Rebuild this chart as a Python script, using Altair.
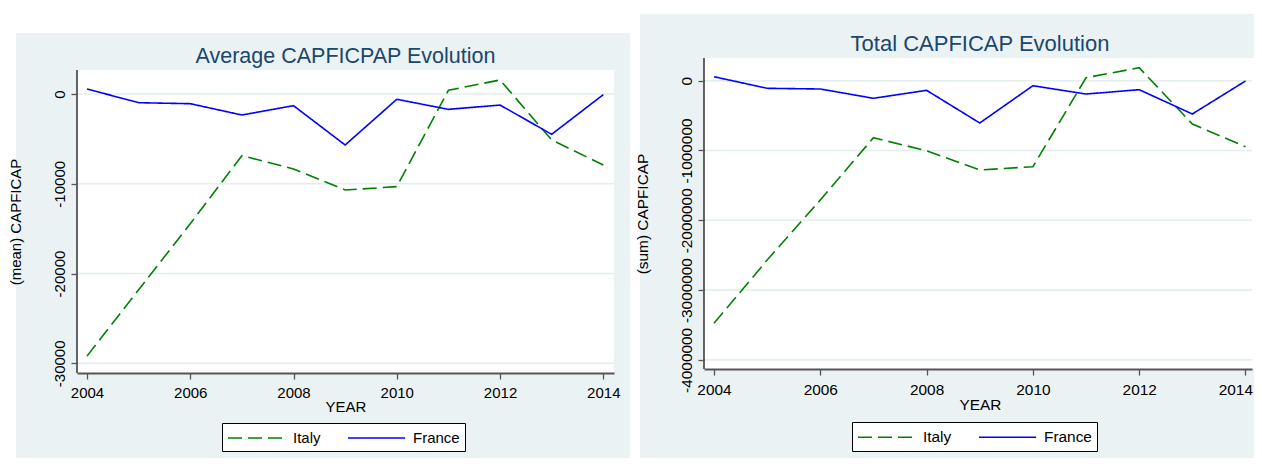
import altair as alt
import pandas as pd

# ---------------- data ----------------
years = [2004, 2005, 2006, 2007, 2008, 2009, 2010, 2011, 2012, 2013, 2014]
countries = ["Italy", "France"]

italy_mean = [-29200, -21800, -14450, -6870, -8350, -10690, -10320, 410, 1560, -5120, -7910]
france_mean = [560, -970, -1080, -2340, -1300, -5680, -590, -1710, -1230, -4490, -70]

italy_sum = [-3476000, -2570000, -1709000, -817000, -1003000, -1279000, -1232000, 43000, 186000, -620000, -946000]
france_sum = [57000, -109000, -119000, -252000, -138000, -606000, -72000, -191000, -129000, -477000, -4000]

mean_ticks = [0, -10000, -20000, -30000]
sum_ticks = [0, -1000000, -2000000, -3000000, -4000000]
year_ticks = [2004, 2006, 2008, 2010, 2012, 2014]

line_colors = ["#008000", "#0000ff"]
line_dashes = [[14, 6], [1, 0]]

FONT = "Liberation Sans"
BG = "#eaf2f3"
GRID = "#e4eef0"
TITLE_COLOR = "#1a476f"


def panel(it_vals, fr_vals, title, ytitle, yticks, ydom, xdom, W, H, white_top, white_right,
          title_x, title_y, title_size, fs, bg, legend_xy, xlabel_pad, xtitle_y, ytitle_y,
          flush, flush_offset):
    df = pd.DataFrame({
        "YEAR": years + years,
        "value": it_vals + fr_vals,
        "country": ["Italy"] * len(years) + ["France"] * len(years),
    })
    one = pd.DataFrame({"t": [title]})
    xs = alt.Scale(domain=xdom, nice=False, zero=False)
    ys = alt.Scale(domain=ydom, nice=False, zero=False)

    yaxis = alt.Axis(
        values=yticks, labelExpr="'' + datum.value", title=ytitle,
        labelFont=FONT, labelFontSize=fs, labelColor="black", labelAngle=270,
        labelAlign="center", labelBaseline="alphabetic", labelPadding=7,
        labelOverlap=False, labelFlush=False,
        tickSize=6, tickColor="#555555", tickWidth=1.3, domain=False, grid=False,
        titleFont=FONT, titleFontSize=fs, titleFontWeight="normal", titleColor="black",
        titleAngle=270, titleX=-57, titleY=ytitle_y, titleBaseline="alphabetic",
        titleAlign="center", zindex=1)

    bg_rect = alt.Chart(one).mark_rect(color=BG).encode(
        x=alt.value(bg[0]), x2=alt.value(bg[1]), y=alt.value(bg[2]), y2=alt.value(bg[3]))
    white = alt.Chart(one).mark_rect(color="white").encode(
        x=alt.value(0), x2=alt.value(white_right), y=alt.value(white_top), y2=alt.value(H))
    grid = alt.Chart(pd.DataFrame({"value": yticks})).mark_rule(
        color=GRID, strokeWidth=1.6).encode(y=alt.Y("value:Q", scale=ys, axis=yaxis))
    ydomain_line = alt.Chart(one).mark_rule(color="black", strokeWidth=1.2).encode(
        x=alt.value(0), y=alt.value(white_top), y2=alt.value(H))

    leg = alt.Legend(
        title=None, orient="none", legendX=legend_xy[0], legendY=legend_xy[1],
        direction="horizontal", symbolType="M-1,0L5.35,0", symbolSize=324,
        symbolStrokeWidth=1.6, labelOffset=46, columnPadding=23,
        labelFont=FONT, labelFontSize=fs, labelColor="black", padding=5,
        strokeColor="black", fillColor="white", cornerRadius=0, zindex=1)

    lines = alt.Chart(df).mark_line(strokeWidth=1.6).encode(
        x=alt.X("YEAR:Q", scale=xs, axis=alt.Axis(
            values=year_ticks, labelExpr="'' + datum.value", title="YEAR",
            labelFont=FONT, labelFontSize=fs, labelColor="black",
            labelFlush=flush, labelFlushOffset=flush_offset,
            labelOverlap=False, labelBaseline="alphabetic", labelPadding=xlabel_pad,
            tickSize=6, tickColor="#555555", tickWidth=1.3,
            domainColor="#555555", domainWidth=1.8, grid=False,
            titleFont=FONT, titleFontSize=fs, titleFontWeight="normal", titleColor="black",
            titleX=title_x, titleY=xtitle_y, titleBaseline="alphabetic", titleAlign="center",
            zindex=1)),
        y=alt.Y("value:Q", scale=ys, axis=yaxis),
        color=alt.Color("country:N", scale=alt.Scale(domain=countries, range=line_colors), legend=leg),
        strokeDash=alt.StrokeDash("country:N", scale=alt.Scale(domain=countries, range=line_dashes), legend=leg),
    )

    title_txt = alt.Chart(one).mark_text(
        font=FONT, fontSize=title_size, color=TITLE_COLOR, align="center", baseline="alphabetic"
    ).encode(text="t:N", x=alt.value(title_x), y=alt.value(title_y))

    return alt.layer(bg_rect, white, grid, ydomain_line, lines, title_txt).properties(width=W, height=H)


left = panel(
    italy_mean, france_mean, "Average CAPFICPAP Evolution", "(mean) CAPFICAP", mean_ticks,
    [-31080, 4010], [2003.8063, 2014.2072], 537, 315, 12, 537,
    268.5, 5.3, 21.5, 15, [-61, 553, -25, 420], [145, 365], 18, 38, 163.5,
    False, 0)

right = panel(
    italy_sum, france_sum, "Total CAPFICAP Evolution", "(sum) CAPFICAP", sum_ticks,
    [-4130400, 325200], [2003.8119, 2014.1223], 548, 311, 0, 560,
    276, -7.5, 22, 15.4, [-64, 580, -44, 420], [148, 364], 19, 40, 155.5,
    8, 7)

chart = alt.hconcat(left, right, spacing=5).resolve_scale(
    color="independent", strokeDash="independent"
).properties(
    autosize=alt.AutoSizeParams(type="none"),
    padding={"left": 69, "top": 50, "right": 1177, "bottom": 400},
    background="white",
).configure(font=FONT).configure_view(strokeWidth=0)

chart.save("out.html", embed_options={"renderer": "svg", "actions": False})
